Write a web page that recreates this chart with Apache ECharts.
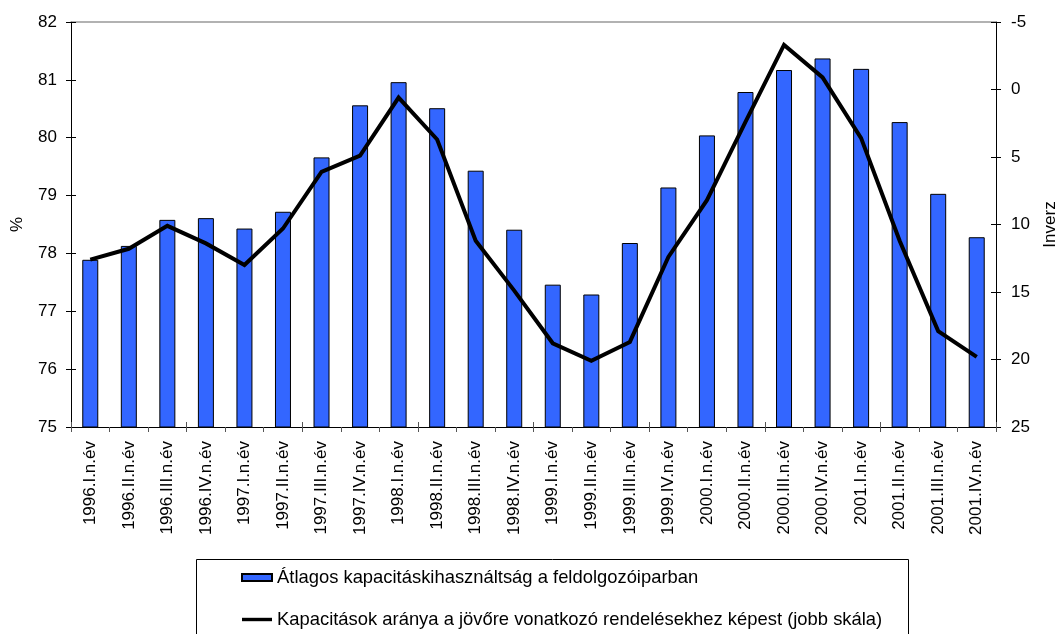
<!DOCTYPE html>
<html>
<head>
<meta charset="utf-8">
<script src="https://cdn.jsdelivr.net/npm/echarts@6/dist/echarts.min.js"></script>
<style>
  html, body { margin: 0; padding: 0; background: #fff; }
  #chart { width: 1058px; height: 634px; }
</style>
</head>
<body>
<div id="chart"></div>
<script>
// Negyedévek
const categories = [
  '1996.I.n.év', '1996.II.n.év', '1996.III.n.év', '1996.IV.n.év',
  '1997.I.n.év', '1997.II.n.év', '1997.III.n.év', '1997.IV.n.év',
  '1998.I.n.év', '1998.II.n.év', '1998.III.n.év', '1998.IV.n.év',
  '1999.I.n.év', '1999.II.n.év', '1999.III.n.év', '1999.IV.n.év',
  '2000.I.n.év', '2000.II.n.év', '2000.III.n.év', '2000.IV.n.év',
  '2001.I.n.év', '2001.II.n.év', '2001.III.n.év', '2001.IV.n.év'
];

// Átlagos kapacitáskihasználtság (%, bal skála)
const utilisation = [
  77.89, 78.13, 78.58, 78.61, 78.43, 78.72, 79.66, 80.56,
  80.96, 80.51, 79.43, 78.41, 77.46, 77.29, 78.18, 79.14,
  80.04, 80.79, 81.17, 81.37, 81.19, 80.27, 79.03, 78.28
];

// Kapacitások / rendelések (jobb skála, fordított)
const capacityToOrders = [
  12.6, 11.8, 10.1, 11.4, 13.0, 10.3, 6.1, 4.9,
  0.6, 3.7, 11.2, 14.9, 18.8, 20.1, 18.7, 12.4,
  8.2, 2.4, -3.3, -0.9, 3.6, 11.2, 17.9, 19.8
];

const seriesNames = [
  'Átlagos kapacitáskihasználtság a feldolgozóiparban',
  'Kapacitások aránya a jövőre vonatkozó rendelésekhez képest (jobb skála)'
];

const FONT = "'Liberation Sans', Arial, sans-serif";
// fixed plot rectangle; labels may sit outside it
const gridBox = { left: 71, right: 62, top: 22, bottom: 207, outerBoundsMode: 'none', containLabel: false };

const chart = echarts.init(document.getElementById('chart'), null, { renderer: 'canvas' });

const tickLine = { color: '#000', width: 1 };
const labelStyle = { color: '#000', fontFamily: FONT, fontSize: 17 };

chart.setOption({
  animation: false,
  backgroundColor: '#fff',
  textStyle: { fontFamily: FONT, color: '#000' },
  grid: [
    Object.assign({}, gridBox),
    Object.assign({}, gridBox)   // second grid only carries the inner half of the ticks
  ],
  xAxis: [
    {
      type: 'category', gridIndex: 0, position: 'bottom', data: categories,
      boundaryGap: true,
      axisLine: { show: true, onZero: false, lineStyle: tickLine },
      axisTick: { show: true, inside: false, length: 5, lineStyle: { color: '#555' } },
      axisLabel: Object.assign({ interval: 0, rotate: 90, margin: 14 }, labelStyle),
      splitLine: { show: false }
    },
    {
      type: 'category', gridIndex: 0, position: 'top', data: categories,
      axisLine: { show: true, onZero: false, lineStyle: { color: '#999', width: 1.5 } },
      axisTick: { show: false }, axisLabel: { show: false }, splitLine: { show: false }
    },
    {
      type: 'category', gridIndex: 1, position: 'bottom', data: categories,
      boundaryGap: true,
      axisLine: { show: false, onZero: false },
      axisTick: { show: true, inside: true, length: 5, lineStyle: { color: '#555' } },
      axisLabel: { show: false }, splitLine: { show: false }
    }
  ],
  yAxis: [
    {
      type: 'value', gridIndex: 0, position: 'left', min: 75, max: 82, interval: 1,
      name: '%', nameLocation: 'middle', nameGap: 45, nameRotate: 90,
      nameTextStyle: { color: '#000', fontFamily: FONT, fontSize: 17 },
      axisLine: { show: true, onZero: false, lineStyle: tickLine },
      axisTick: { show: true, inside: false, length: 5, lineStyle: tickLine },
      axisLabel: Object.assign({ margin: 14 }, labelStyle),
      splitLine: { show: false }
    },
    {
      type: 'value', gridIndex: 0, position: 'right', min: -5, max: 25, interval: 5,
      inverse: true,
      name: 'Inverz', nameLocation: 'middle', nameGap: 46, nameRotate: 90,
      nameTextStyle: { color: '#000', fontFamily: FONT, fontSize: 17 },
      axisLine: { show: true, onZero: false, lineStyle: tickLine },
      axisTick: { show: true, inside: false, length: 5, lineStyle: tickLine },
      axisLabel: Object.assign({ margin: 15 }, labelStyle),
      splitLine: { show: false }
    },
    {
      type: 'value', gridIndex: 1, position: 'left', min: 75, max: 82, interval: 1,
      axisLine: { show: false, onZero: false },
      axisTick: { show: true, inside: true, length: 5, lineStyle: tickLine },
      axisLabel: { show: false }, splitLine: { show: false }
    },
    {
      type: 'value', gridIndex: 1, position: 'right', min: -5, max: 25, interval: 5,
      inverse: true,
      axisLine: { show: false, onZero: false },
      axisTick: { show: true, inside: true, length: 5, lineStyle: tickLine },
      axisLabel: { show: false }, splitLine: { show: false }
    }
  ],
  legend: {
    left: 241, top: 567, orient: 'vertical', padding: 0,
    itemGap: 21, itemWidth: 30, itemHeight: 7,
    textStyle: { color: '#000', fontFamily: FONT, fontSize: 18.4, lineHeight: 21 },
    data: [
      { name: seriesNames[0], icon: 'rect' },
      { name: seriesNames[1], icon: 'path://M0,0H30V3.4H0Z', itemStyle: { color: '#000' } }
    ]
  },
  graphic: [
    {
      type: 'rect', left: 194, top: 557, silent: true,
      shape: { x: 0, y: 0, width: 712, height: 100 },
      style: { fill: 'none', stroke: '#000', lineWidth: 1 }
    }
  ],
  series: [
    {
      name: seriesNames[0], type: 'bar', xAxisIndex: 0, yAxisIndex: 0,
      data: utilisation, barWidth: 16,
      itemStyle: { color: '#3366FF', borderColor: '#000', borderWidth: 1 }
    },
    {
      name: seriesNames[1], type: 'line', xAxisIndex: 0, yAxisIndex: 1,
      data: capacityToOrders, symbol: 'none', showSymbol: false,
      lineStyle: { color: '#000', width: 4, join: 'miter' },
      itemStyle: { color: '#000' }
    }
  ]
});
</script>
</body>
</html>
